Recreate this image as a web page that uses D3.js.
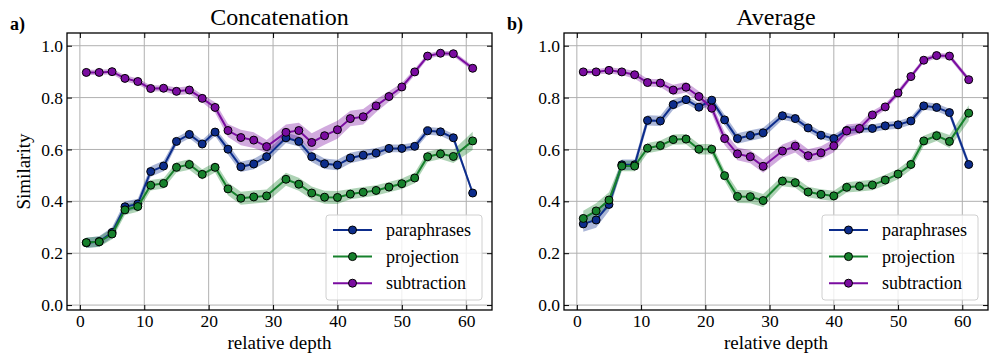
<!DOCTYPE html>
<html>
<head>
<meta charset="utf-8">
<script src="https://cdn.jsdelivr.net/npm/d3@7"></script>
<style>
  body { margin: 0; background: #fff; }
  svg { display: block; font-family: "Liberation Serif", "Times New Roman", serif; }
</style>
</head>
<body>
<div id="chart"></div>
<script>
// relative depth of each layer
const depth = [1, 3, 5, 7, 9, 11, 13, 15, 17, 19, 21, 23, 25, 27, 29, 32, 34, 36, 38, 40, 42, 44, 46, 48, 50, 52, 54, 56, 58, 61];

// a) Concatenation
const concatParaphrases = [0.240, 0.245, 0.280, 0.379, 0.390, 0.515, 0.536, 0.631, 0.658, 0.621, 0.667, 0.601, 0.533, 0.544, 0.572, 0.645, 0.631, 0.572, 0.545, 0.540, 0.567, 0.578, 0.586, 0.604, 0.604, 0.612, 0.672, 0.668, 0.645, 0.432];
const concatProjection = [0.241, 0.244, 0.274, 0.367, 0.380, 0.462, 0.469, 0.531, 0.542, 0.504, 0.531, 0.448, 0.412, 0.417, 0.421, 0.485, 0.466, 0.432, 0.416, 0.415, 0.428, 0.435, 0.442, 0.455, 0.468, 0.490, 0.572, 0.583, 0.573, 0.633];
const concatSubtraction = [0.897, 0.897, 0.900, 0.874, 0.862, 0.835, 0.836, 0.824, 0.829, 0.797, 0.762, 0.673, 0.646, 0.636, 0.611, 0.666, 0.673, 0.627, 0.653, 0.676, 0.719, 0.726, 0.768, 0.804, 0.841, 0.899, 0.960, 0.971, 0.969, 0.913];
const concatParaphrasesStd = [0.02, 0.02, 0.02, 0.02, 0.02, 0.02, 0.02, 0.015, 0.015, 0.015, 0.015, 0.02, 0.02, 0.02, 0.02, 0.02, 0.02, 0.02, 0.02, 0.02, 0.02, 0.02, 0.02, 0.015, 0.015, 0.015, 0.015, 0.015, 0.015, 0.01];
const concatProjectionStd = [0.02, 0.02, 0.02, 0.02, 0.02, 0.02, 0.02, 0.02, 0.02, 0.02, 0.02, 0.025, 0.025, 0.025, 0.025, 0.025, 0.025, 0.025, 0.025, 0.025, 0.02, 0.02, 0.02, 0.02, 0.02, 0.02, 0.02, 0.02, 0.025, 0.035];
const concatSubtractionStd = [0.01, 0.01, 0.01, 0.012, 0.012, 0.012, 0.012, 0.015, 0.015, 0.015, 0.02, 0.025, 0.03, 0.03, 0.025, 0.03, 0.03, 0.035, 0.035, 0.035, 0.03, 0.03, 0.025, 0.02, 0.015, 0.012, 0.01, 0.01, 0.01, 0.01];

// b) Average
const avgParaphrases = [0.313, 0.328, 0.388, 0.541, 0.541, 0.712, 0.710, 0.773, 0.792, 0.763, 0.790, 0.714, 0.642, 0.654, 0.664, 0.730, 0.719, 0.683, 0.655, 0.642, 0.673, 0.679, 0.681, 0.691, 0.695, 0.710, 0.768, 0.762, 0.742, 0.542];
const avgProjection = [0.334, 0.363, 0.405, 0.536, 0.536, 0.605, 0.615, 0.638, 0.640, 0.601, 0.601, 0.499, 0.419, 0.418, 0.403, 0.478, 0.472, 0.436, 0.427, 0.421, 0.454, 0.458, 0.463, 0.482, 0.505, 0.542, 0.633, 0.653, 0.631, 0.740];
const avgSubtraction = [0.899, 0.899, 0.905, 0.899, 0.888, 0.858, 0.856, 0.829, 0.840, 0.804, 0.759, 0.642, 0.583, 0.572, 0.535, 0.594, 0.613, 0.576, 0.587, 0.614, 0.671, 0.681, 0.733, 0.764, 0.818, 0.881, 0.944, 0.962, 0.960, 0.869];
const avgParaphrasesStd = [0.03, 0.03, 0.025, 0.02, 0.02, 0.02, 0.02, 0.02, 0.015, 0.015, 0.015, 0.02, 0.02, 0.02, 0.02, 0.015, 0.015, 0.015, 0.015, 0.015, 0.015, 0.015, 0.015, 0.015, 0.015, 0.015, 0.015, 0.015, 0.015, 0.015];
const avgProjectionStd = [0.03, 0.03, 0.03, 0.02, 0.02, 0.02, 0.02, 0.02, 0.02, 0.02, 0.02, 0.02, 0.025, 0.025, 0.025, 0.02, 0.02, 0.02, 0.02, 0.02, 0.02, 0.02, 0.02, 0.02, 0.02, 0.02, 0.02, 0.02, 0.025, 0.03];
const avgSubtractionStd = [0.01, 0.01, 0.012, 0.012, 0.015, 0.015, 0.015, 0.02, 0.02, 0.02, 0.02, 0.025, 0.025, 0.025, 0.025, 0.025, 0.025, 0.025, 0.025, 0.025, 0.025, 0.02, 0.015, 0.012, 0.012, 0.01, 0.01, 0.01, 0.01, 0.01];

const seriesNames = ["paraphrases", "projection", "subtraction"];
const seriesColors = ["#0d2d8c", "#16812c", "#7a0ca0"];
const xTicks = [0, 10, 20, 30, 40, 50, 60];
const yTicks = [0.0, 0.2, 0.4, 0.6, 0.8, 1.0];

const width = 997, height = 364;
const svg = d3.select("#chart").append("svg")
    .attr("width", width)
    .attr("height", height);

const panels = [
    {letter: "a)", title: "Concatenation", left: 67, right: 492, ylabel: true,
     values: [concatParaphrases, concatProjection, concatSubtraction],
     stds: [concatParaphrasesStd, concatProjectionStd, concatSubtractionStd]},
    {letter: "b)", title: "Average", left: 564, right: 988, ylabel: false,
     values: [avgParaphrases, avgProjection, avgSubtraction],
     stds: [avgParaphrasesStd, avgProjectionStd, avgSubtractionStd]}
];

const plotTop = 33, plotBottom = 310;

panels.forEach(p => {
    let w = p.right - p.left;
    let h = plotBottom - plotTop;
    let g = svg.append("g").attr("transform", `translate(${p.left},${plotTop})`);

    let x = d3.scaleLinear().domain([-2, 64]).range([0, w]);
    let y = d3.scaleLinear().domain([-0.019, 1.049]).range([h, 0]);

    // grid
    g.append("g").selectAll("line").data(xTicks).join("line")
        .attr("x1", d => x(d)).attr("x2", d => x(d))
        .attr("y1", 0).attr("y2", h)
        .attr("stroke", "#b0b0b0").attr("stroke-width", 1);
    g.append("g").selectAll("line").data(yTicks).join("line")
        .attr("x1", 0).attr("x2", w)
        .attr("y1", d => y(d)).attr("y2", d => y(d))
        .attr("stroke", "#b0b0b0").attr("stroke-width", 1);

    let clip = "clip-" + p.title;
    g.append("clipPath").attr("id", clip)
        .append("rect").attr("width", w).attr("height", h);
    let plot = g.append("g").attr("clip-path", `url(#${clip})`);

    // bands
    p.values.forEach((vals, i) => {
        let pts = depth.map((d, k) => ({x: d, y: vals[k], s: p.stds[i][k]}));
        let area = d3.area()
            .x(d => x(d.x))
            .y0(d => y(d.y - d.s))
            .y1(d => y(d.y + d.s));
        plot.append("path")
            .datum(pts)
            .attr("fill", seriesColors[i])
            .attr("fill-opacity", 0.35)
            .attr("d", area);
    });

    // lines + markers
    p.values.forEach((vals, i) => {
        let pts = depth.map((d, k) => ({x: d, y: vals[k]}));
        let line = d3.line().x(d => x(d.x)).y(d => y(d.y));
        plot.append("path")
            .datum(pts)
            .attr("fill", "none")
            .attr("stroke", seriesColors[i])
            .attr("stroke-width", 2)
            .attr("d", line);
        plot.append("g").selectAll("circle").data(pts).join("circle")
            .attr("cx", d => x(d.x))
            .attr("cy", d => y(d.y))
            .attr("r", 4)
            .attr("fill", seriesColors[i])
            .attr("stroke", "#000")
            .attr("stroke-width", 1);
    });

    // axes (ticks inward on all sides)
    let tickLen = 5;
    let axB = g.append("g").attr("transform", `translate(0,${h})`)
        .call(d3.axisBottom(x).tickValues(xTicks).tickSizeInner(-tickLen).tickSizeOuter(0).tickPadding(5));
    let axL = g.append("g")
        .call(d3.axisLeft(y).tickValues(yTicks).tickFormat(d3.format(".1f")).tickSizeInner(-tickLen).tickSizeOuter(0).tickPadding(4));
    let axT = g.append("g")
        .call(d3.axisTop(x).tickValues(xTicks).tickSizeInner(-tickLen).tickSizeOuter(0).tickFormat(""));
    let axR = g.append("g").attr("transform", `translate(${w},0)`)
        .call(d3.axisRight(y).tickValues(yTicks).tickSizeInner(-tickLen).tickSizeOuter(0).tickFormat(""));
    [axB, axL, axT, axR].forEach(a => {
        a.select(".domain").remove();
        a.selectAll("line").attr("stroke", "#000").attr("stroke-width", 1);
        a.selectAll("text").attr("fill", "#000")
            .style("font-family", "'Liberation Serif', serif")
            .style("font-size", "17.5px");
    });

    g.append("rect")
        .attr("width", w).attr("height", h)
        .attr("fill", "none").attr("stroke", "#000").attr("stroke-width", 1.3);

    // legend
    let lw = 156, lh = 85;
    let lg = g.append("g").attr("transform", `translate(${w - 10 - lw},${h - 10 - lh})`);
    lg.append("rect")
        .attr("width", lw).attr("height", lh).attr("rx", 3)
        .attr("fill", "#fff").attr("fill-opacity", 0.8)
        .attr("stroke", "#d0d0d0").attr("stroke-width", 1);
    seriesNames.forEach((name, i) => {
        let ly = 15 + i * 26.6;
        lg.append("line")
            .attr("x1", 7).attr("x2", 46).attr("y1", ly).attr("y2", ly)
            .attr("stroke", seriesColors[i]).attr("stroke-width", 2);
        lg.append("circle")
            .attr("cx", 26.5).attr("cy", ly).attr("r", 4)
            .attr("fill", seriesColors[i]).attr("stroke", "#000").attr("stroke-width", 1);
        lg.append("text")
            .attr("x", 60).attr("y", ly + 6)
            .style("font-size", "18px")
            .text(name);
    });

    // titles and labels
    g.append("text")
        .attr("x", w / 2).attr("y", -8)
        .attr("text-anchor", "middle")
        .style("font-size", "24px")
        .text(p.title);
    svg.append("text")
        .attr("x", p.left - 57).attr("y", 30)
        .style("font-size", "18px").style("font-weight", "bold")
        .text(p.letter);
    g.append("text")
        .attr("x", w / 2).attr("y", h + 39)
        .attr("text-anchor", "middle")
        .style("font-size", "19px")
        .text("relative depth");
    if (p.ylabel) {
        g.append("text")
            .attr("transform", `translate(${-37},${h / 2}) rotate(-90)`)
            .attr("text-anchor", "middle")
            .style("font-size", "19px")
            .text("Similarity");
    }
});
</script>
</body>
</html>
